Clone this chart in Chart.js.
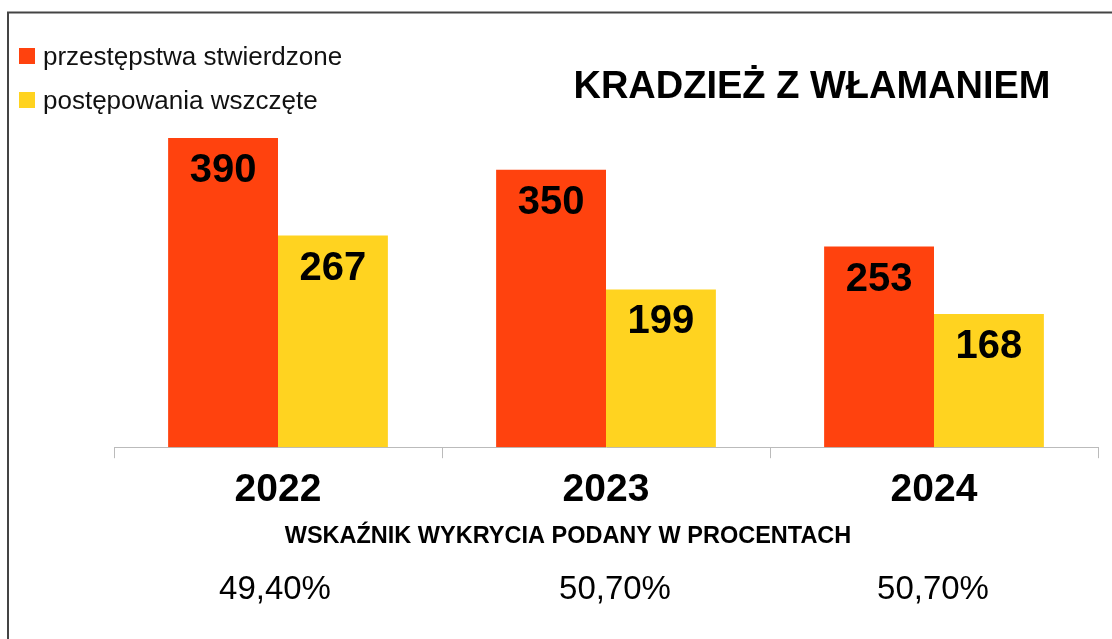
<!DOCTYPE html>
<html>
<head>
<meta charset="utf-8">
<script src="https://cdn.jsdelivr.net/npm/chart.js@4"></script>
<style>
html,body{margin:0;padding:0;background:#fff;}
#wrap{width:1112px;height:639px;position:relative;}
</style>
</head>
<body>
<div id="wrap"><canvas id="c" width="1112" height="639"></canvas></div>
<script>
const categories = ['2022', '2023', '2024'];
const seriesNames = ['przestępstwa stwierdzone', 'postępowania wszczęte'];
const stwierdzone = [390, 350, 253];
const wszczete = [267, 199, 168];
const wskaznik = ['49,40%', '50,70%', '50,70%'];
const chartTitle = 'KRADZIEŻ Z WŁAMANIEM';
const subTitle = 'WSKAŹNIK WYKRYCIA PODANY W PROCENTACH';
const colors = ['#ff420e', '#ffd320'];

const FONT = '"Liberation Sans", Arial, sans-serif';
const pctShift = [-3, 9, -1];

const decor = {
  id: 'decor',
  afterDraw(chart) {
    const ctx = chart.ctx;
    ctx.save();
    // frame
    ctx.strokeStyle = '#444';
    ctx.lineWidth = 2;
    ctx.beginPath();
    ctx.moveTo(8, 639);
    ctx.lineTo(8, 12.5);
    ctx.lineTo(1112, 12.5);
    ctx.stroke();

    // legend
    ctx.font = '26px ' + FONT;
    ctx.textBaseline = 'middle';
    ctx.textAlign = 'left';
    chart.data.datasets.forEach((ds, i) => {
      const y = 56 + i * 44;
      ctx.fillStyle = ds.backgroundColor;
      ctx.fillRect(19, y - 8, 16, 16);
      ctx.fillStyle = '#111';
      ctx.fillText(ds.label, 43, y + 2);
    });

    // title
    ctx.font = 'bold 38px ' + FONT;
    ctx.textAlign = 'center';
    ctx.fillStyle = '#000';
    ctx.fillText(chartTitle, 812, 88);

    // value labels inside bars
    ctx.font = 'bold 40px ' + FONT;
    chart.data.datasets.forEach((ds, i) => {
      const meta = chart.getDatasetMeta(i);
      meta.data.forEach((bar, j) => {
        ctx.fillText(String(ds.data[j]), bar.x, bar.y + 33);
      });
    });

    // subtitle
    const xs = chart.scales.x;
    ctx.font = 'bold 23.5px ' + FONT;
    ctx.fillText(subTitle, 568, 537);

    // percentages
    ctx.font = '33px ' + FONT;
    wskaznik.forEach((t, j) => {
      ctx.fillText(t, xs.getPixelForValue(j) + pctShift[j], 590);
    });
    ctx.restore();
  }
};

new Chart(document.getElementById('c'), {
  type: 'bar',
  data: {
    labels: categories,
    datasets: [
      { label: seriesNames[0], data: stwierdzone, backgroundColor: colors[0] },
      { label: seriesNames[1], data: wszczete, backgroundColor: colors[1] }
    ]
  },
  options: {
    responsive: false,
    animation: false,
    devicePixelRatio: 1,
    layout: { padding: { left: 114, right: 14, top: 130, bottom: 116 } },
    plugins: { legend: { display: false }, title: { display: false }, tooltip: { enabled: false } },
    datasets: { bar: { barPercentage: 1, categoryPercentage: 0.67 } },
    scales: {
      y: { display: false, min: 0, max: 400 },
      x: {
        grid: { drawOnChartArea: false, drawTicks: true, tickLength: 11, color: '#bbb', offset: true },
        border: { display: true, color: '#bbb', width: 1 },
        ticks: { color: '#000', font: { family: FONT, size: 39, weight: 'bold' }, padding: 9 }
      }
    }
  },
  plugins: [decor]
});
</script>
</body>
</html>
